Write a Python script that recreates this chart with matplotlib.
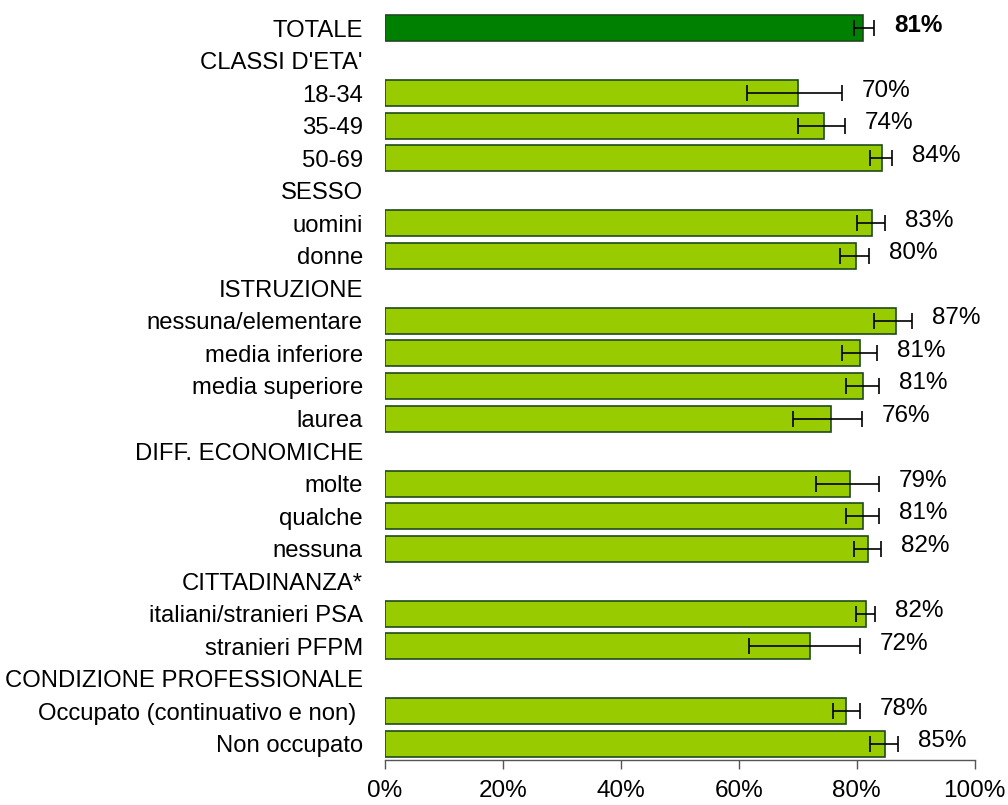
import numpy as np
import matplotlib
matplotlib.use('Agg')
import matplotlib.pyplot as plt
from matplotlib.ticker import FuncFormatter

plt.rcParams['font.family'] = ['Liberation Sans', 'DejaVu Sans']

# ── Data ─────────────────────────────────────────────────────────────────────
categories = ["TOTALE", "CLASSI D'ETA'", "18-34", "35-49", "50-69",
              "SESSO", "uomini", "donne",
              "ISTRUZIONE", "nessuna/elementare", "media inferiore",
              "media superiore", "laurea",
              "DIFF. ECONOMICHE", "molte", "qualche", "nessuna",
              "CITTADINANZA*", "italiani/stranieri PSA", "stranieri PFPM",
              "CONDIZIONE PROFESSIONALE", "Occupato (continuativo e non) ",
              "Non occupato"]
nan = np.nan
values  = [81.1, nan, 70.0, 74.4, 84.2, nan, 82.6, 79.8, nan, 86.6, 80.6,
           81.1, 75.7, nan, 78.8, 81.1, 81.9, nan, 81.6, 72.1, nan, 78.2, 84.7]
ci_low  = [79.6, nan, 61.3, 70.0, 82.3, nan, 80.0, 77.1, nan, 82.9, 77.5,
           78.2, 69.2, nan, 73.1, 78.2, 79.6, nan, 79.8, 61.7, nan, 75.9, 82.3]
ci_high = [82.9, nan, 77.5, 78.0, 85.9, nan, 84.7, 82.0, nan, 89.3, 83.4,
           83.7, 80.9, nan, 83.7, 83.7, 84.1, nan, 83.1, 80.5, nan, 80.5, 87.0]
x_ticks = [0, 20, 40, 60, 80, 100]

vals = np.array(values)
lo = np.array(ci_low)
hi = np.array(ci_high)
y = np.arange(len(categories))
has = ~np.isnan(vals)

COL_TOT = '#008000'
COL_BAR = '#99CC00'
EDGE = '#1F4A1F'

# ── Figure ───────────────────────────────────────────────────────────────────
fig = plt.figure(figsize=(10.08, 8.05), dpi=100)
ax = fig.add_axes([0.382, 0.056, 0.585, 0.929])

colors = [COL_TOT if i == 0 else COL_BAR for i in y[has]]
ax.barh(y[has], vals[has], height=0.8, color=colors, edgecolor=EDGE,
        linewidth=1.2, zorder=2)

ax.errorbar(vals[has], y[has],
            xerr=[vals[has] - lo[has], hi[has] - vals[has]],
            fmt='none', ecolor='black', elinewidth=1.2, capsize=5.5,
            capthick=1.2, zorder=3)

for i in y[has]:
    ax.text(hi[i] + 3.4, i - 0.08, f'{vals[i]:.0f}%', ha='left', va='center',
            fontsize=17.5, fontweight='bold' if i == 0 else 'normal')

ax.set_yticks(y)
ax.set_yticklabels(categories, fontsize=17.2)
ax.tick_params(axis='y', length=0, pad=16)
ax.set_ylim(len(categories) - 0.5, -0.5)

ax.set_xlim(0, 100)
ax.set_xticks(x_ticks)
ax.xaxis.set_major_formatter(FuncFormatter(lambda v, _: f'{v:.0f}%'))
ax.tick_params(axis='x', length=6.5, width=1, direction='out', pad=8,
               labelsize=17.5, color='#555555')

for s in ['top', 'right', 'left']:
    ax.spines[s].set_visible(False)
ax.spines['bottom'].set_color('#555555')
ax.spines['bottom'].set_linewidth(1)

fig.savefig('out.png', dpi=100)
